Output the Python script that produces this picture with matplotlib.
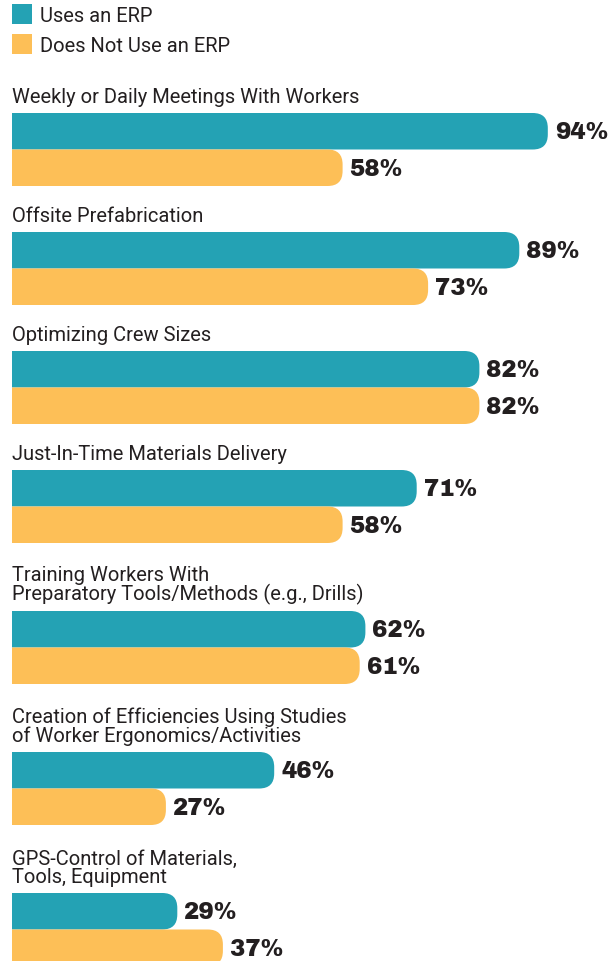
import matplotlib.pyplot as plt
from matplotlib.patches import PathPatch, Rectangle
from matplotlib.path import Path

# data
categories = [
    'Weekly or Daily Meetings With Workers',
    'Offsite Prefabrication',
    'Optimizing Crew Sizes',
    'Just-In-Time Materials Delivery',
    'Training Workers With\nPreparatory Tools/Methods (e.g., Drills)',
    'Creation of Efficiencies Using Studies\nof Worker Ergonomics/Activities',
    'GPS-Control of Materials,\nTools, Equipment',
]
uses_erp = [94, 89, 82, 71, 62, 46, 29]
no_erp = [58, 73, 82, 58, 61, 27, 37]
series_names = ['Uses an ERP', 'Does Not Use an ERP']

teal = '#24a2b4'
gold = '#fdbf57'
ink = '#231f20'

W, H = 613, 962
px = 5.7          # pixels per percent
bar_h = 36.5      # pixel height of one bar
radius = 15       # corner radius in pixels
label_font = ['Roboto', 'DejaVu Sans']
value_font = ['Archivo Black', 'DejaVu Sans']

fig = plt.figure(figsize=(W / 100, H / 100), dpi=100)
ax = fig.add_axes([0, 0, 1, 1])
ax.set_xlim(-12 / px, (W - 12) / px)
ax.set_ylim(H, 0)
ax.axis('off')


def rounded_bar(y, value, color):
    # square left end, rounded right end
    rx, ry = radius / px, radius
    verts = [(0, y), (value - rx, y), (value, y), (value, y + ry),
             (value, y + bar_h - ry), (value, y + bar_h), (value - rx, y + bar_h),
             (0, y + bar_h), (0, y)]
    codes = [Path.MOVETO, Path.LINETO, Path.CURVE3, Path.CURVE3,
             Path.LINETO, Path.CURVE3, Path.CURVE3, Path.LINETO, Path.CLOSEPOLY]
    ax.add_patch(PathPatch(Path(verts, codes), fc=color, ec='none', lw=0))
    ax.text(value + 7 / px, y + bar_h / 2 + 1, f'{value}%', ha='left', va='center',
            fontsize=16.5, family=value_font, color=ink)


# legend
for i, (name, col) in enumerate(zip(series_names, [teal, gold])):
    y0 = 5 + i * 30
    ax.add_patch(Rectangle((0, y0), 20 / px, 20, fc=col, ec='none'))
    ax.text(28 / px, y0 + 11, name, ha='left', va='center', fontsize=14.5,
            family=label_font, color=ink)

# groups
top = 114
for cat, a, b in zip(categories, uses_erp, no_erp):
    nlines = cat.count('\n') + 1
    top += 22 * (nlines - 1)
    ax.text(0, top - 7, cat, ha='left', va='bottom', fontsize=14.5,
            family=label_font, color=ink, linespacing=0.95)
    rounded_bar(top, a, teal)
    rounded_bar(top + bar_h, b, gold)
    top += 2 * bar_h + 46

fig.savefig('out.png', dpi=100)
